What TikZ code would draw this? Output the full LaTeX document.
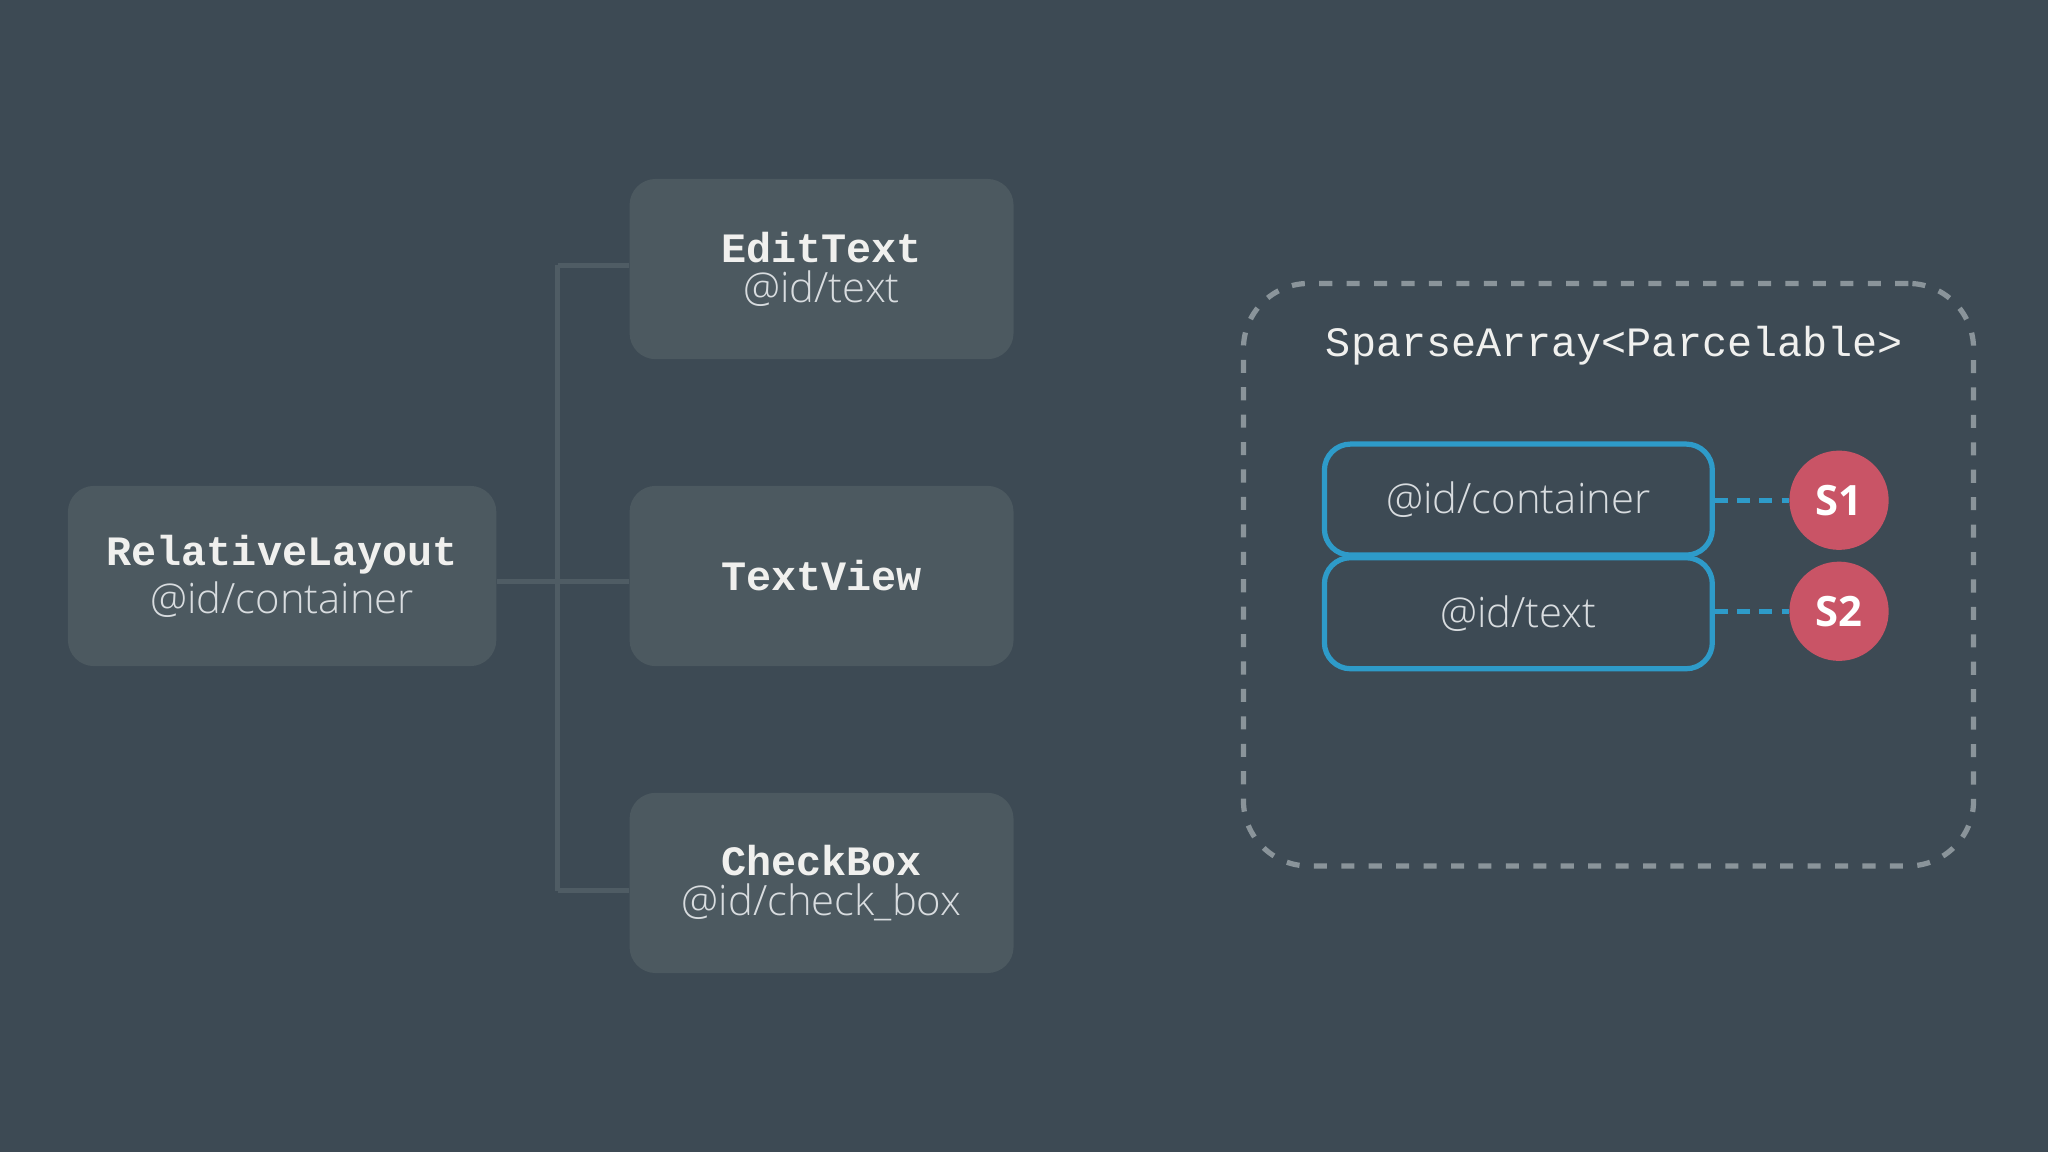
\documentclass[tikz,border=0pt]{standalone}
\usepackage{fontspec}
\setmainfont{Open Sans}
\newfontfamily\monof{Liberation Mono}
\newfontfamily\lightf{Open Sans Light}
\definecolor{bg}{HTML}{3D4A54}
\definecolor{boxc}{HTML}{4C5960}
\definecolor{linec}{HTML}{4F5C64}
\definecolor{dashc}{HTML}{8A949A}
\definecolor{bluec}{HTML}{2E9BC9}
\definecolor{redc}{HTML}{C95466}
\definecolor{txt}{HTML}{F0F0EE}
\definecolor{stxt}{HTML}{D8DCDF}
\begin{document}
\begin{tikzpicture}[x=0.5pt,y=-0.5pt,
  viewbox/.style={fill=boxc,rounded corners=10pt,minimum width=147pt,minimum height=69pt,inner sep=0pt,align=center},
  mono/.style={font=\monof\bfseries\fontsize{16}{19}\selectfont,text=txt},
  conn/.style={draw=linec,line width=2pt},
  slot/.style={draw=bluec,line width=2pt,rounded corners=10pt,minimum width=148.5pt,minimum height=42.5pt,inner sep=0pt,text=stxt,font=\lightf\fontsize{16}{19}\selectfont},
  badge/.style={circle,fill=redc,minimum size=38pt,inner sep=0pt,text=white,font=\bfseries\fontsize{16}{19}\selectfont},
  bdash/.style={draw=bluec,line width=2pt,dash pattern=on 5pt off 3.5pt}]
\fill[bg] (0,0) rectangle (1568,882);
\useasboundingbox (0,0) rectangle (1568,882);
\node[viewbox,minimum width=164pt] (rl) at (216,441) {{\monof\bfseries\fontsize{16}{19}\selectfont\color{txt}RelativeLayout}\\[2pt]{\lightf\fontsize{16}{19}\selectfont\color{stxt}@id/container}};
\node[viewbox] (et) at (629,206) {{\monof\bfseries\fontsize{16}{19}\selectfont\color{txt}EditText}\\[2pt]{\lightf\fontsize{16}{19}\selectfont\color{stxt}@id/text}};
\node[viewbox,mono] (tv) at (629,441) {TextView};
\node[viewbox] (cb) at (629,676) {{\monof\bfseries\fontsize{16}{19}\selectfont\color{txt}CheckBox}\\[2pt]{\lightf\fontsize{16}{19}\selectfont\color{stxt}@id/check\_box}};
\coordinate (j) at (427,445);
\coordinate (jt) at (427,203);
\coordinate (jb) at (427,682);
\draw[conn] (rl.east |- j) -- (j);
\draw[conn] (jt) -- (jb);
\draw[conn] (jt) -- (et.west |- jt);
\draw[conn] (j) -- (tv.west |- j);
\draw[conn] (jb) -- (cb.west |- jb);
\node[draw=dashc,line width=2pt,dash pattern=on 5pt off 5.5pt,rounded corners=25pt,minimum width=279.5pt,minimum height=223pt,inner sep=0pt] (sa) at (1231.5,440) {};
\node[font=\monof\fontsize{16}{19}\selectfont,text=txt] (title) at (1236,265) {SparseArray<Parcelable>};
\node[slot] (c1) at (1162.5,382.5) {@id/container};
\node[slot] (c2) at (1162.5,469.5) {@id/text};
\node[badge] (s1) at (1408,383) {S1};
\node[badge] (s2) at (1408,468) {S2};
\draw[bdash] (c1.east |- s1) -- (s1.west);
\draw[bdash] (c2.east |- s2) -- (s2.west);
\end{tikzpicture}
\end{document}
